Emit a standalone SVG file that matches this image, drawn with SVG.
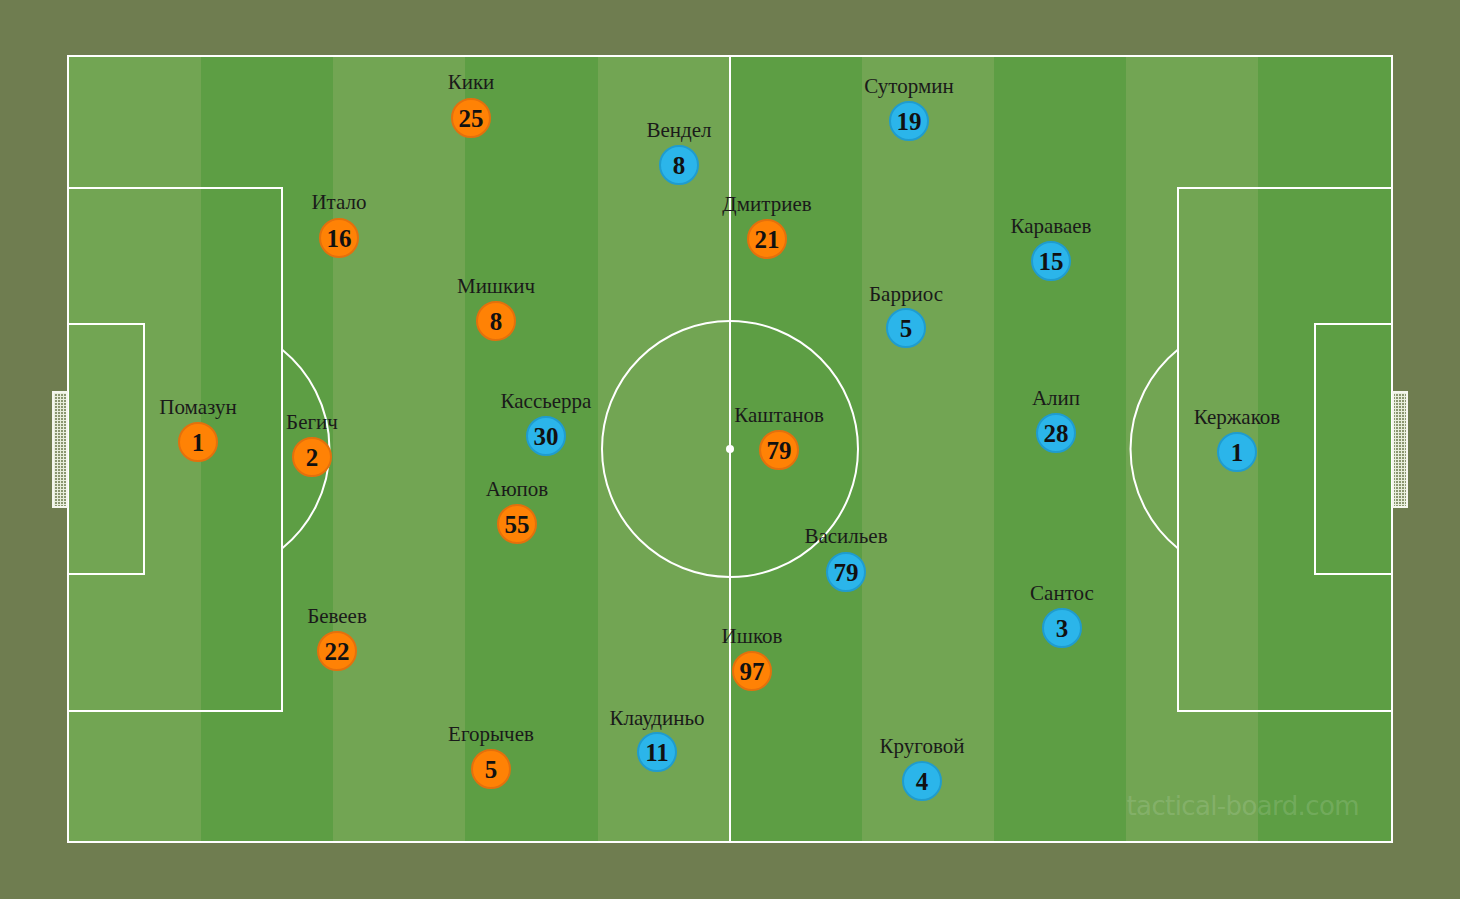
<svg xmlns="http://www.w3.org/2000/svg" width="1460" height="899" viewBox="0 0 1460 899">
<defs>
<style>
.line{fill:none;stroke:#ffffff;stroke-width:2}
.name{font-family:"Liberation Serif","Times New Roman",serif;font-size:21px;fill:#1a1a1a;text-anchor:middle}
.num{font-family:"Liberation Serif","Times New Roman",serif;font-size:25px;font-weight:bold;fill:#111111;text-anchor:middle}
.orange{fill:#ff8205;stroke:#e4700c;stroke-width:2}
.blue{fill:#2bb5ea;stroke:#1f9ccf;stroke-width:2}
.light{fill:#72a553}
.dark{fill:#5d9e44}
</style>
<pattern id="net" width="3" height="3" patternUnits="userSpaceOnUse">
<rect width="3" height="3" fill="#8a9670"/>
<path d="M0 0.5H3M0.5 0V3" stroke="#e8eedc" stroke-width="1"/>
</pattern>
</defs>
<rect width="1460" height="899" fill="#6f7d50"/>
<g id="pitch">
<rect class="light" x="68" y="56" width="133" height="786"/>
<rect class="dark" x="201" y="56" width="132" height="786"/>
<rect class="light" x="333" y="56" width="132" height="786"/>
<rect class="dark" x="465" y="56" width="133" height="786"/>
<rect class="light" x="598" y="56" width="132" height="786"/>
<rect class="dark" x="730" y="56" width="132" height="786"/>
<rect class="light" x="862" y="56" width="132" height="786"/>
<rect class="dark" x="994" y="56" width="132" height="786"/>
<rect class="light" x="1126" y="56" width="132" height="786"/>
<rect class="dark" x="1258" y="56" width="134" height="786"/>
<rect class="line" x="68" y="56" width="1324" height="786"/>
<line class="line" x1="730" y1="56" x2="730" y2="842"/>
<circle class="line" cx="730" cy="449" r="128"/>
<circle cx="730" cy="449" r="4" fill="#ffffff"/>
<rect class="line" x="68" y="188" width="214" height="523"/>
<rect class="line" x="68" y="324" width="76" height="250"/>
<path class="line" d="M282 349.5A128 128 0 0 1 282 548.5"/>
<rect class="line" x="1178" y="188" width="214" height="523"/>
<rect class="line" x="1315" y="324" width="77" height="250"/>
<path class="line" d="M1178 349.5A128 128 0 0 0 1178 548.5"/>
<rect x="53" y="392" width="14" height="115" fill="url(#net)" stroke="#f4f6ee" stroke-width="2"/>
<rect x="1393" y="392" width="14" height="115" fill="url(#net)" stroke="#f4f6ee" stroke-width="2"/>
<text x="1243" y="815" font-family="'DejaVu Sans',sans-serif" font-size="26" fill="#ffffff" fill-opacity="0.14" text-anchor="middle" textLength="233">tactical-board.com</text>
</g>
<g id="connectors"></g>
<g id="p-pomazun"><text class="name" x="198" y="414">Помазун</text><circle class="orange" cx="198" cy="442" r="19"/><text class="num" x="198" y="451">1</text></g>
<g id="p-begich"><text class="name" x="312" y="429">Бегич</text><circle class="orange" cx="312" cy="457" r="19"/><text class="num" x="312" y="466">2</text></g>
<g id="p-italo"><text class="name" x="339" y="209">Итало</text><circle class="orange" cx="339" cy="238" r="19"/><text class="num" x="339" y="247">16</text></g>
<g id="p-kiki"><text class="name" x="471" y="89">Кики</text><circle class="orange" cx="471" cy="118" r="19"/><text class="num" x="471" y="127">25</text></g>
<g id="p-mishkich"><text class="name" x="496" y="293">Мишкич</text><circle class="orange" cx="496" cy="321" r="19"/><text class="num" x="496" y="330">8</text></g>
<g id="p-ayupov"><text class="name" x="517" y="496">Аюпов</text><circle class="orange" cx="517" cy="524" r="19"/><text class="num" x="517" y="533">55</text></g>
<g id="p-beveev"><text class="name" x="337" y="623">Бевеев</text><circle class="orange" cx="337" cy="651" r="19"/><text class="num" x="337" y="660">22</text></g>
<g id="p-egorychev"><text class="name" x="491" y="741">Егорычев</text><circle class="orange" cx="491" cy="769" r="19"/><text class="num" x="491" y="778">5</text></g>
<g id="p-dmitriev"><text class="name" x="767" y="211">Дмитриев</text><circle class="orange" cx="767" cy="239" r="19"/><text class="num" x="767" y="248">21</text></g>
<g id="p-kashtanov"><text class="name" x="779" y="422">Каштанов</text><circle class="orange" cx="779" cy="450" r="19"/><text class="num" x="779" y="459">79</text></g>
<g id="p-ishkov"><text class="name" x="752" y="643">Ишков</text><circle class="orange" cx="752" cy="671" r="19"/><text class="num" x="752" y="680">97</text></g>
<g id="p-vendel"><text class="name" x="679" y="137">Вендел</text><circle class="blue" cx="679" cy="165" r="19"/><text class="num" x="679" y="174">8</text></g>
<g id="p-sutormin"><text class="name" x="909" y="93">Сутормин</text><circle class="blue" cx="909" cy="121" r="19"/><text class="num" x="909" y="130">19</text></g>
<g id="p-karavaev"><text class="name" x="1051" y="233">Караваев</text><circle class="blue" cx="1051" cy="261" r="19"/><text class="num" x="1051" y="270">15</text></g>
<g id="p-barrios"><text class="name" x="906" y="301">Барриос</text><circle class="blue" cx="906" cy="328" r="19"/><text class="num" x="906" y="337">5</text></g>
<g id="p-cassierra"><text class="name" x="546" y="408">Кассьерра</text><circle class="blue" cx="546" cy="436" r="19"/><text class="num" x="546" y="445">30</text></g>
<g id="p-alip"><text class="name" x="1056" y="405">Алип</text><circle class="blue" cx="1056" cy="433" r="19"/><text class="num" x="1056" y="442">28</text></g>
<g id="p-kerzhakov"><text class="name" x="1237" y="424">Кержаков</text><circle class="blue" cx="1237" cy="452" r="19"/><text class="num" x="1237" y="461">1</text></g>
<g id="p-vasiliev"><text class="name" x="846" y="543">Васильев</text><circle class="blue" cx="846" cy="572" r="19"/><text class="num" x="846" y="581">79</text></g>
<g id="p-santos"><text class="name" x="1062" y="600">Сантос</text><circle class="blue" cx="1062" cy="628" r="19"/><text class="num" x="1062" y="637">3</text></g>
<g id="p-klaudinho"><text class="name" x="657" y="725">Клаудиньо</text><circle class="blue" cx="657" cy="752" r="19"/><text class="num" x="657" y="761">11</text></g>
<g id="p-krugovoy"><text class="name" x="922" y="753">Круговой</text><circle class="blue" cx="922" cy="781" r="19"/><text class="num" x="922" y="790">4</text></g>
</svg>
